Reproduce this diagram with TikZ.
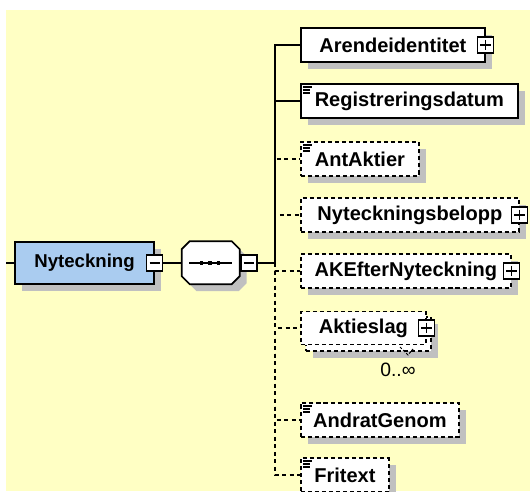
\documentclass[tikz,border=0pt]{standalone}
\usepackage{fontspec}
\setmainfont{Liberation Sans}
\usetikzlibrary{shadows, calc}

\definecolor{PaneYellow}{RGB}{255,255,196}
\definecolor{RootBlue}{RGB}{170,204,240}
\definecolor{ShadowGray}{RGB}{192,192,192}

\begin{document}
\begin{tikzpicture}[x=0.02cm, y=-0.02cm,
	box/.style={rectangle, draw=black, line width=1pt, fill=white, anchor=west,
		minimum height=0.68cm, inner sep=0pt, font=\fontsize{11.4}{13}\selectfont\bfseries},
	shadowed/.style={general shadow={draw=none, fill=ShadowGray,
		shadow xshift=0.14cm, shadow yshift=-0.14cm}},
	optional/.style={dash pattern=on 2.3pt off 1.7pt},
	elem/.style={box, shadowed},
	optelem/.style={box, shadowed, optional},
	root/.style={box, shadowed, anchor=center, fill=RootBlue, minimum width=2.78cm,
		minimum height=0.84cm, font=\fontsize{10.6}{13}\selectfont\bfseries},
	seqbox/.style={rectangle, minimum width=1.16cm, minimum height=0.86cm, inner sep=0pt},
	pmbox/.style={rectangle, draw=black, fill=white, line width=0.7pt,
		minimum size=0.32cm, inner sep=0pt},
	minusbox/.style={pmbox, path picture={
		\draw[line width=0.7pt] ([xshift=1.5pt]path picture bounding box.west)
			-- ([xshift=-1.5pt]path picture bounding box.east);}},
	plusbox/.style={pmbox, path picture={
		\draw[line width=0.7pt] ([xshift=1.5pt]path picture bounding box.west)
			-- ([xshift=-1.5pt]path picture bounding box.east);
		\draw[line width=0.7pt] ([yshift=-1.5pt]path picture bounding box.north)
			-- ([yshift=1.5pt]path picture bounding box.south);}},
	link/.style={line width=0.9pt},
	optlink/.style={link, dash pattern=on 2.3pt off 2pt},
	icon/.style={line width=0.8pt}]

	\useasboundingbox (0,0) rectangle (530,491);
	\clip (0,0) rectangle (530,491);
	\fill[white] (0,0) rectangle (530,491);
	\fill[PaneYellow] (6,10) rectangle (530,491);

	% root element and sequence compositor
	\coordinate (in) at (6,263);
	\node[root] (nyt) at (84.5,263) {Nyteckning};
	\node[minusbox] (nytminus) at (nyt.east) {};
	\node[seqbox] (seq) at (211,263) {};
	\coordinate (bus) at (275,263);

	\fill[ShadowGray] ([shift={(7,7)}]seq.north west) ++(8,0) -- ++(42,0) -- ++(8,8)
		-- ++(0,27) -- ++(-8,8) -- ++(-42,0) -- ++(-8,-8) -- ++(0,-27) -- cycle;
	\draw[line width=1pt, fill=white] (seq.north west) ++(8,0) -- ++(42,0) -- ++(8,8)
		-- ++(0,27) -- ++(-8,8) -- ++(-42,0) -- ++(-8,-8) -- ++(0,-27) -- cycle;
	\node[minusbox, anchor=west] (seqminus) at (seq.east) {};

	\draw[line width=0.8pt] ($(seq)+(-22,0)$) -- ($(seq)+(21,0)$);
	\foreach \dx in {-9.5,-1,7.5}
		\fill ($(seq)+(\dx-1.8,-1.8)$) rectangle ++(3.6,3.6);

	% child elements
	\node[elem, minimum width=3.68cm] (c1) at (300,45) {Arendeidentitet};
	\node[elem, minimum width=4.34cm] (c2) at (300,101) {Registreringsdatum};
	\node[optelem, minimum width=2.36cm] (c3) at (300,159) {AntAktier};
	\node[optelem, minimum width=4.36cm] (c4) at (300,215) {Nyteckningsbelopp};
	\node[optelem, minimum width=4.2cm] (c5) at (300,271) {AKEfterNyteckning};
	\node[optelem, minimum width=2.5cm] (c6back) at (305,334) {};
	\node[box, optional, minimum width=2.5cm, minimum height=0.66cm] (c6) at (300,328) {Aktieslag};
	\node[optelem, minimum width=3.16cm] (c7) at (300,420) {AndratGenom};
	\node[optelem, minimum width=1.76cm] (c8) at (300,475) {Fritext};

	\node[plusbox] (c1plus) at (c1.east) {};
	\node[plusbox] (c4plus) at (c4.east) {};
	\node[plusbox] (c5plus) at (c5.east) {};
	\node[plusbox] (c6plus) at (c6.east) {};

	\draw[line width=0.6pt, dash pattern=on 1.5pt off 1pt] (400,347) -- (408,355) -- (413,349);
	\node[font=\fontsize{11}{13}\selectfont] (c6mult) at (398,370) {0..∞};

	\foreach \n in {c2,c3,c7,c8}
		\foreach \dy/\len in {4/9,7/7,10/7}
			\draw[icon] ($(\n.north west)+(3,\dy)$) -- ++(\len,0);

	% connectors
	\draw[link] (in) -- (nyt.west);
	\draw[link] (nytminus.east) -- (seq.west);
	\draw[link] (seqminus.east) -- (bus);
	\foreach \c in {c1,c2}
		\draw[link] (bus) |- (\c.west);
	\foreach \c in {c3,c4,c5,c6,c7,c8}
		\draw[optlink] (bus) |- (\c.west);
\end{tikzpicture}
\end{document}
